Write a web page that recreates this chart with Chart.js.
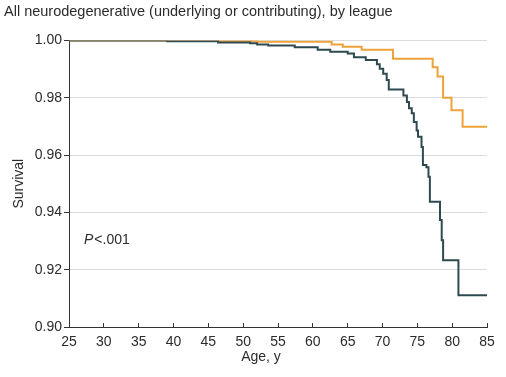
<!DOCTYPE html>
<html lang="en">
<head>
  <meta charset="UTF-8" />
  <title>All neurodegenerative (underlying or contributing), by league</title>
  <style>
    body {
      margin: 0;
      background: #fff;
    }

    .wrap {
      width: 506px;
      height: 377px;
    }
  </style>
</head>
<body>

  <div class="wrap">
    <canvas id="survivalChart"></canvas>
  </div>

  <script src="https://cdn.jsdelivr.net/npm/chart.js"></script>
  <script>
    // step points: age at which survival drops to the given value
    const nflAges = [25, 39.1, 46.4, 51.0, 52.0, 53.6, 57.4, 60.7, 62.5, 65.0, 65.9, 67.6, 69.2, 69.6, 70.1, 70.6, 70.9,
      73.0, 73.5, 73.8, 74.2, 74.5, 74.9, 75.1, 75.6, 75.8, 76.3, 76.6, 76.8, 78.25, 78.5, 78.7, 80.9, 85];
    const nflSurvival = [1.0, 0.9997, 0.9993, 0.9990, 0.9986, 0.9982, 0.9976, 0.9967, 0.9960, 0.9954, 0.9941, 0.9932, 0.9917, 0.9901, 0.9884, 0.9862, 0.9829,
      0.9808, 0.9785, 0.9763, 0.9746, 0.9715, 0.9686, 0.9664, 0.9628, 0.9565, 0.9557, 0.9524, 0.9437, 0.9373, 0.9303, 0.9233, 0.9111, 0.9111];

    const mlbAges = [25, 39.1, 52.0, 62.7, 64.3, 67.0, 71.5, 77.2, 77.9, 78.7, 79.9, 81.5, 85];
    const mlbSurvival = [1.0, 0.9998, 0.9995, 0.9986, 0.9978, 0.9967, 0.9936, 0.9906, 0.9874, 0.9800, 0.9756, 0.9699, 0.9699];

    const xTicks = [25, 30, 35, 40, 45, 50, 55, 60, 65, 70, 75, 80, 85];
    const yTicks = [0.90, 0.92, 0.94, 0.96, 0.98, 1.00];

    const pValueText = ['P', '<.001'];
    const pValueAt = [27.15, 0.9303];

    const FONT = "'Liberation Sans', Arial, sans-serif";
    const TEXT = '#2b2b2b';

    function toPoints(xs, ys) {
      return xs.map((x, i) => ({ x: x, y: ys[i] }));
    }

    const notes = {
      id: 'notes',
      afterDraw(chart) {
        const { ctx, chartArea, scales: { x, y } } = chart;
        ctx.save();
        ctx.fillStyle = TEXT;
        ctx.textBaseline = 'middle';

        // P value
        let px = x.getPixelForValue(pValueAt[0]);
        const py = y.getPixelForValue(pValueAt[1]);
        ctx.font = 'italic 14px ' + FONT;
        ctx.textAlign = 'left';
        ctx.fillText(pValueText[0], px, py);
        px += ctx.measureText(pValueText[0]).width + 1;
        ctx.font = '14px ' + FONT;
        ctx.fillText(pValueText[1], px, py);

        // x axis title
        ctx.textAlign = 'center';
        ctx.font = '14px ' + FONT;
        ctx.fillText('Age, y', (chartArea.left + chartArea.right) / 2 - 17, 357);
        ctx.restore();
      }
    };

    new Chart(document.getElementById('survivalChart'), {
      type: 'line',
      data: {
        datasets: [
          {
            label: 'NFL',
            data: toPoints(nflAges, nflSurvival),
            borderColor: '#2e4a50',
            borderWidth: 2,
            pointRadius: 0,
            stepped: 'before',
            fill: false
          },
          {
            label: 'MLB',
            data: toPoints(mlbAges, mlbSurvival),
            borderColor: '#eea23a',
            borderWidth: 2,
            pointRadius: 0,
            stepped: 'before',
            fill: false
          }
        ]
      },
      options: {
        responsive: true,
        maintainAspectRatio: false,
        animation: false,
        layout: { padding: { left: 4, right: 19, top: 0, bottom: 0 } },
        plugins: {
          legend: { display: false },
          tooltip: { enabled: false },
          title: {
            display: true,
            text: 'All neurodegenerative (underlying or contributing), by league',
            align: 'start',
            color: TEXT,
            font: { family: FONT, size: 14.5, weight: 'normal' },
            padding: { top: 3, bottom: 20 }
          }
        },
        scales: {
          x: {
            type: 'linear',
            min: 25,
            max: 85,
            afterBuildTicks: (s) => { s.ticks = xTicks.map(v => ({ value: v })); },
            afterFit: (s) => { s.height = 50; },
            border: { display: true, color: '#333', width: 1 },
            grid: { drawOnChartArea: false, tickLength: -4, color: '#333' },
            ticks: {
              color: TEXT,
              font: { family: FONT, size: 14 },
              padding: 11,
              maxRotation: 0
            }
          },
          y: {
            min: 0.90,
            max: 1.00,
            afterBuildTicks: (s) => { s.ticks = yTicks.map(v => ({ value: v })); },
            afterFit: (s) => { s.width = 65; },
            border: { display: true, color: '#333', width: 1 },
            grid: { color: '#dcdcdc', tickColor: '#333', tickLength: 5 },
            title: {
              display: true,
              text: 'Survival',
              color: TEXT,
              font: { family: FONT, size: 14 },
              padding: { top: 7, bottom: 4 }
            },
            ticks: {
              color: TEXT,
              font: { family: FONT, size: 14 },
              padding: 2,
              callback: (v) => v.toFixed(2)
            }
          }
        }
      },
      plugins: [notes]
    });
  </script>

</body>
</html>
